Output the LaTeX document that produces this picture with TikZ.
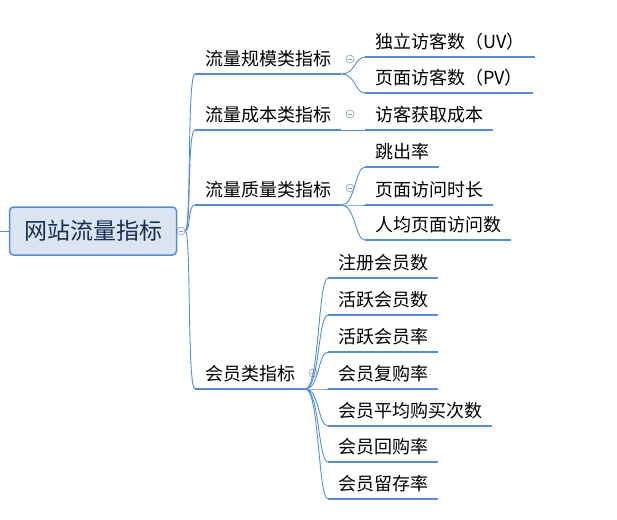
\documentclass[tikz,border=0pt]{standalone}
\usepackage{fontspec}
\setmainfont{Noto Sans CJK SC}
\usepackage{tikz}
\definecolor{mmline}{RGB}{84,141,212}
\definecolor{mmfill}{RGB}{219,229,242}
\definecolor{mmtext}{RGB}{23,45,85}
\definecolor{mmfold}{RGB}{128,156,196}

\begin{document}
\begin{tikzpicture}[x=1pt, y=-1pt,
  topic/.style={anchor=south west, inner xsep=10pt, inner ysep=4pt, text height=14pt, text depth=4pt, font=\fontsize{18}{20}\selectfont},
  uline/.style={mmline, line width=2pt},
  link/.style={mmline, line width=0.9pt},
  fold/.style={circle, draw=mmfold, fill=white, line width=0.6pt, minimum size=8pt, inner sep=0pt,
    path picture={\draw[mmfold, line width=0.7pt] ([xshift=-2pt]path picture bounding box.center) -- ([xshift=2pt]path picture bounding box.center);}}
]
\useasboundingbox (0,0) rectangle (617,519);

% Root
\coordinate (stub) at (0,231);
\node[draw=mmline, fill=mmfill, rounded corners=4pt, line width=1.5pt, minimum width=167pt, minimum height=48pt, text=mmtext, font=\fontsize{23}{26}\selectfont] (root) at (93,231) {网站流量指标};
\draw[link] (stub) -- (root.west);
\node[fold] (rootfold) at (181,231) {};

% Category 1
\node[topic] (scale) at (195,74) {流量规模类指标};
\node[fold] (scalefold) at (350,59) {};
\node[topic] (uv) at (365,57) {独立访客数（UV）};
\node[topic] (pv) at (365,93) {页面访客数（PV）};

% Category 2
\node[topic] (cost) at (195,130) {流量成本类指标};
\node[fold] (costfold) at (350,114) {};
\node[topic] (acq) at (365,130) {访客获取成本};

% Category 3
\node[topic] (quality) at (195,205) {流量质量类指标};
\node[fold] (qualityfold) at (350,188) {};
\node[topic] (bounce) at (365,167) {跳出率};
\node[topic] (duration) at (365,205) {页面访问时长};
\node[topic] (pages) at (365,240) {人均页面访问数};

% Category 4
\node[topic] (member) at (195,389) {会员类指标};
\node[fold] (memberfold) at (313,373) {};
\node[topic] (reg) at (328,278) {注册会员数};
\node[topic] (active) at (328,315) {活跃会员数};
\node[topic] (activerate) at (328,352) {活跃会员率};
\node[topic] (rebuy) at (328,389) {会员复购率};
\node[topic] (avgbuy) at (328,426) {会员平均购买次数};
\node[topic] (repurchase) at (328,462) {会员回购率};
\node[topic] (retain) at (328,499) {会员留存率};

% Underlines
\foreach \n in {scale,cost,quality,member,uv,pv,acq,bounce,duration,pages,reg,active,activerate,rebuy,avgbuy,repurchase,retain}
  \draw[uline] (\n.south west) -- (\n.south east);

% Branches
\foreach \n in {scale,cost,quality,member}
  \draw[link] (rootfold.east) .. controls +(6,0) and +(-8,0) .. (\n.south west);
\foreach \n in {uv,pv}
  \draw[link] (scale.south east) .. controls +(14,0) and +(-10,0) .. (\n.south west);
\draw[link] (cost.south east) -- (acq.south west);
\foreach \n in {bounce,duration,pages}
  \draw[link] (quality.south east) .. controls +(14,0) and +(-10,0) .. (\n.south west);
\foreach \n in {reg,active,activerate,rebuy,avgbuy,repurchase,retain}
  \draw[link] (member.south east) .. controls +(14,0) and +(-10,0) .. (\n.south west);
\end{tikzpicture}
\end{document}
